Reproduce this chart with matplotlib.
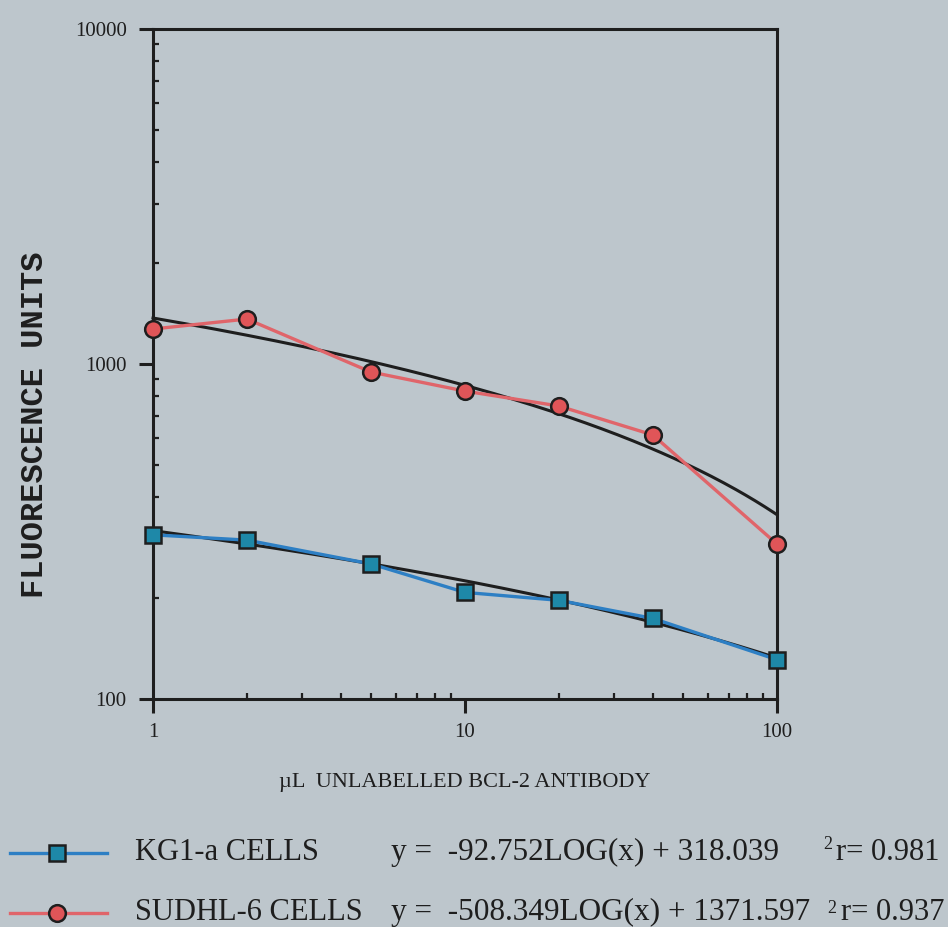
import numpy as np
import matplotlib
matplotlib.use("Agg")
import matplotlib.pyplot as plt
from matplotlib.lines import Line2D
from matplotlib.ticker import LogLocator, FixedLocator, NullFormatter

# Antibody volumes (µL) and measured fluorescence
volume = [1, 2, 5, 10, 20, 40, 100]
kg1a = [309, 298, 253, 208, 197, 174, 131]
sudhl6 = [1272, 1362, 946, 830, 749, 614, 290]

# Logarithmic regression fits: y = slope*LOG(x) + intercept
kg1a_fit = [-92.752, 318.039]
sudhl6_fit = [-508.349, 1371.597]
r2_values = ["0.981", "0.937"]
series_names = ["KG1-a CELLS", "SUDHL-6 CELLS"]

x_ticks = [1, 10, 100]
x_ticklabels = ["1", "10", "100"]
y_ticks = [100, 1000, 10000]
y_ticklabels = ["100", "1000", "10000"]

BG = "#bdc6cc"
INK = "#1e1e1e"
BLUE_LINE = "#2d7fc4"
BLUE_FILL = "#1e88a8"
RED_LINE = "#e0656a"
RED_FILL = "#e05558"

serif = ["Liberation Serif", "DejaVu Serif"]
mono = ["Liberation Mono", "DejaVu Sans Mono"]

fig = plt.figure(figsize=(9.48, 9.27), dpi=100, facecolor=BG)
ax = fig.add_axes([0.1614, 0.2460, 0.6582, 0.7227], facecolor=BG)
ax.set_xscale("log")
ax.set_yscale("log")
ax.set_xlim(1, 100)
ax.set_ylim(100, 10000)

for sp in ax.spines.values():
    sp.set_color(INK)
    sp.set_linewidth(2.2)

# Regression curves
xs = np.logspace(0, 2, 200)
for coef in (kg1a_fit, sudhl6_fit):
    ax.plot(xs, coef[0] * np.log10(xs) + coef[1], color=INK, lw=2.2,
            zorder=3, clip_on=False)

# Measured series
ax.plot(volume, kg1a, color=BLUE_LINE, lw=2.4, marker="s", ms=12,
        mfc=BLUE_FILL, mec=INK, mew=1.8, zorder=4, clip_on=False)
ax.plot(volume, sudhl6, color=RED_LINE, lw=2.4, marker="o", ms=12,
        mfc=RED_FILL, mec=INK, mew=1.8, zorder=4, clip_on=False)

# Ticks: major outward, minor inward
ax.xaxis.set_major_locator(FixedLocator(x_ticks))
ax.yaxis.set_major_locator(FixedLocator(y_ticks))
ax.set_xticklabels(x_ticklabels, fontfamily=serif, fontsize=15, color=INK)
ax.set_yticklabels(y_ticklabels, fontfamily=serif, fontsize=15, color=INK)
ax.xaxis.set_minor_locator(LogLocator(base=10, subs=np.arange(2, 10)))
ax.yaxis.set_minor_locator(LogLocator(base=10, subs=np.arange(2, 10)))
ax.xaxis.set_minor_formatter(NullFormatter())
ax.yaxis.set_minor_formatter(NullFormatter())
ax.tick_params(which="major", direction="out", length=10, width=2.2,
               color=INK, pad=7)
ax.tick_params(axis="y", which="major", pad=9)
ax.tick_params(which="minor", direction="in", length=4, width=1.6,
               color=INK)

ax.set_ylabel("FLUORESCENCE UNITS", fontfamily=mono, fontsize=23,
              fontweight="bold", color=INK)
ax.yaxis.set_label_coords(-0.165, 0.41)
ax.set_xlabel("µL  UNLABELLED BCL-2 ANTIBODY", fontfamily=serif,
              fontsize=16, color=INK)
ax.xaxis.set_label_coords(0.499, -0.110)

# Legend rows with regression equations
rows = [
    (0.0798, 0.0723, 0.0841, 0.868, BLUE_LINE, "s", BLUE_FILL,
     series_names[0], kg1a_fit, r2_values[0]),
    (0.0151, 0.0076, 0.0151, 0.873, RED_LINE, "o", RED_FILL,
     series_names[1], sudhl6_fit, r2_values[1]),
]
for y_line, y_base, y_sup, x_sup, lc, mk, fc, name, coef, r2 in rows:
    fig.add_artist(Line2D([0.011, 0.113], [y_line, y_line], color=lc, lw=2.4,
                          transform=fig.transFigure))
    fig.add_artist(Line2D([0.060], [y_line], marker=mk, ms=12, mfc=fc,
                          mec=INK, mew=1.8, transform=fig.transFigure))
    fig.text(0.142, y_base, name, fontfamily=serif, fontsize=22, color=INK,
             va="baseline", ha="left")
    eq = f"y =  {coef[0]:.3f}LOG(x) + {coef[1]:.3f}"
    fig.text(0.412, y_base, eq, fontfamily=serif, fontsize=22.5, color=INK,
             va="baseline", ha="left")
    fig.text(x_sup, y_sup, "2", fontfamily=serif, fontsize=13, color=INK,
             va="baseline", ha="left")
    fig.text(x_sup + 0.014, y_base, "r= " + r2, fontfamily=serif,
             fontsize=22, color=INK, va="baseline", ha="left")

fig.savefig("out.png", dpi=100, facecolor=BG)
